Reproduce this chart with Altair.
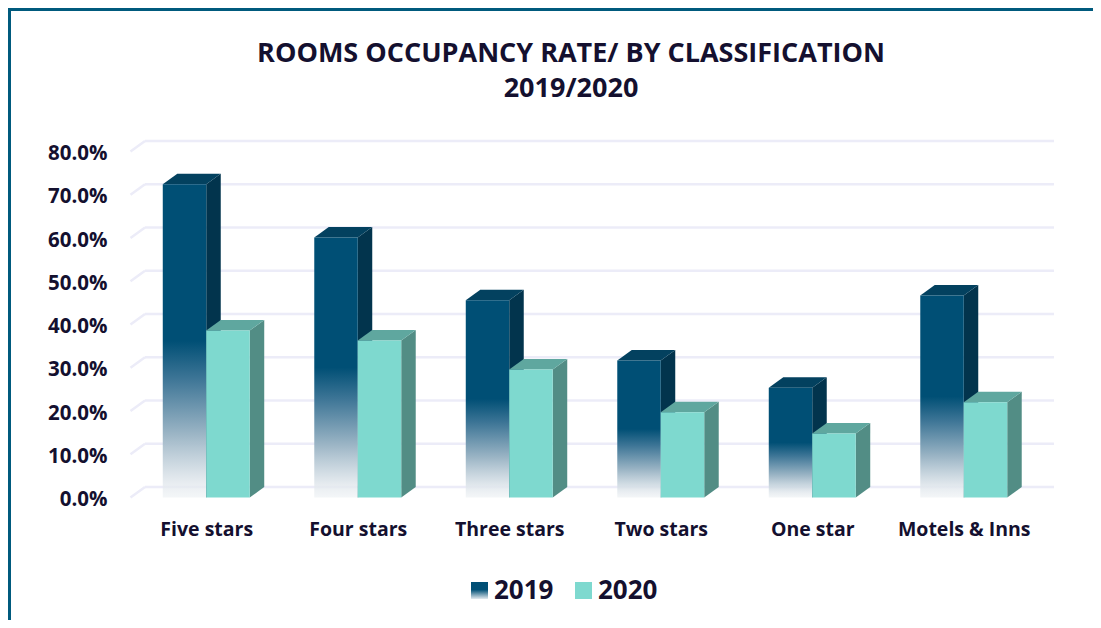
import altair as alt
import pandas as pd

categories = ["Five stars", "Four stars", "Three stars", "Two stars", "One star", "Motels & Inns"]
rate_2019 = [0.724, 0.601, 0.456, 0.317, 0.254, 0.467]
rate_2020 = [0.386, 0.363, 0.296, 0.197, 0.148, 0.220]
y_ticks = [0, 0.1, 0.2, 0.3, 0.4, 0.5, 0.6, 0.7, 0.8]
series = ["2019", "2020"]
title_lines = ["ROOMS OCCUPANCY RATE/ BY CLASSIFICATION", "2019/2020"]

FONT = "Open Sans"
INK = "#14102F"
BAR_W = 0.287
DX = 0.0957
DY = 0.0243
C19 = {"front": "#004F75", "top": "#03415F", "side": "#02344D"}
C20 = {"front": "#7ED9CF", "top": "#5FA79F", "side": "#528D85"}
GRID = "#ECECF8"
BORDER = "#005A7D"

xs = alt.Scale(domain=[-0.5, 5.5], nice=False, zero=False)
ys = alt.Scale(domain=[0, 0.8], nice=False)

labels_js = "[" + ",".join('"%s"' % c for c in categories) + "][datum.value]"
x_axis = alt.Axis(values=list(range(6)), labelExpr=labels_js, domain=False, ticks=False, grid=False,
                  labelFont=FONT, labelFontSize=19.5, labelFontWeight="bold", labelColor=INK,
                  labelPadding=23, labelOverlap=False, labelAngle=0)
y_axis = alt.Axis(values=y_ticks, format=".1%", domain=False, ticks=False, grid=False,
                  labelFont=FONT, labelFontSize=20.5, labelFontWeight="bold", labelColor=INK,
                  labelPadding=23.5, labelOffset=2, labelOverlap=False)


def X(field):
    return alt.X(field, type="quantitative", scale=xs, axis=x_axis, title=None)


def Y(field):
    return alt.Y(field, type="quantitative", scale=ys, axis=y_axis, title=None)


grad19 = alt.LinearGradient(
    gradient="linear", x1=0, x2=0, y1=0, y2=1,
    stops=[
        alt.GradientStop(offset=0, color="#004F75"),
        alt.GradientStop(offset=0.5, color="#004F75"),
        alt.GradientStop(offset=0.62, color="#3D7596"),
        alt.GradientStop(offset=0.8, color="#9DB6C6"),
        alt.GradientStop(offset=0.95, color="rgba(226,232,237,0.85)"),
        alt.GradientStop(offset=1, color="rgba(236,240,243,0.6)"),
    ],
)


def bar_layers(values, start, colors, front_fill):
    rows = [{"cat": i, "x0": i + start, "x1": i + start + BAR_W, "v": v} for i, v in enumerate(values)]
    front = pd.DataFrame(rows)
    side = pd.DataFrame(
        [{"cat": r["cat"], "x": r["x1"], "lo": 0, "hi": r["v"]} for r in rows]
        + [{"cat": r["cat"], "x": r["x1"] + DX, "lo": DY, "hi": r["v"] + DY} for r in rows]
    )
    top = pd.DataFrame(
        [{"cat": r["cat"], "a": r["x0"], "b": r["x1"], "y": r["v"]} for r in rows]
        + [{"cat": r["cat"], "a": r["x0"] + DX, "b": r["x1"] + DX, "y": r["v"] + DY} for r in rows]
    )
    return [
        alt.Chart(side).mark_area(orient="vertical", color=colors["side"]).encode(
            x=X("x"), y=Y("lo"), y2="hi", detail="cat:N"),
        alt.Chart(top).mark_area(orient="horizontal", color=colors["top"]).encode(
            y=Y("y"), x=X("a"), x2="b", detail="cat:N"),
        alt.Chart(front).mark_bar(fill=front_fill).encode(
            x=X("x0"), x2="x1", y=Y("v"), y2=alt.datum(0)),
    ]


grid_df = pd.DataFrame({"v": y_ticks})
grid_df["vb"] = grid_df["v"] + DY
grid_df["xa"] = -0.5
grid_df["xb"] = -0.5 + DX
grid_df["xc"] = 5.5 + DX
grid_back = alt.Chart(grid_df).mark_rule(color=GRID, strokeWidth=2.5).encode(
    x=X("xb"), x2="xc", y=Y("vb"))
grid_diag = alt.Chart(grid_df).mark_rule(color=GRID, strokeWidth=2.5).encode(
    x=X("xa"), x2="xb", y=Y("v"), y2="vb")

one = alt.Data(values=[{"k": 1}])
legend = [
    alt.Chart(one).mark_rect(fill=alt.LinearGradient(
        gradient="linear", x1=0, x2=0, y1=0, y2=1,
        stops=[alt.GradientStop(offset=0, color="#004F75"), alt.GradientStop(offset=0.45, color="#004F75"),
               alt.GradientStop(offset=1, color="#E4EAEF")])).encode(
        x=alt.value(340.5), x2=alt.value(357.5), y=alt.value(430.5), y2=alt.value(447.5)),
    alt.Chart(one).mark_rect(fill=C20["front"]).encode(
        x=alt.value(444.5), x2=alt.value(461.5), y=alt.value(430.5), y2=alt.value(447.5)),
    alt.Chart(one).mark_text(align="left", baseline="middle", font=FONT, fontSize=26, fontWeight="bold", color=INK).encode(
        x=alt.value(363.5), y=alt.value(439), text=alt.value(series[0])),
    alt.Chart(one).mark_text(align="left", baseline="middle", font=FONT, fontSize=26, fontWeight="bold", color=INK).encode(
        x=alt.value(467.5), y=alt.value(439), text=alt.value(series[1])),
]

frame = [
    alt.Chart(one).mark_rule(color=BORDER, strokeWidth=4).encode(
        x=alt.value(-121.5), y=alt.value(-143.5), y2=alt.value(468.5)),
    alt.Chart(one).mark_rule(color=BORDER, strokeWidth=4).encode(
        x=alt.value(-122.5), x2=alt.value(962.5), y=alt.value(-142.5)),
]

layers = (
    [grid_back, grid_diag]
    + bar_layers(rate_2019, -BAR_W, C19, grad19)
    + bar_layers(rate_2020, 0, C20, C20["front"])
    + legend + frame
)

chart = alt.layer(*layers).properties(
    width=909,
    height=346,
    padding={"left": 122.5, "top": 143.5, "right": 53.5, "bottom": 122.5},
    autosize=alt.AutoSizeParams(type="none"),
    background="white",
    title=alt.TitleParams(
        text=title_lines, anchor="middle", dx=-14, offset=-97, font=FONT, fontSize=27,
        fontWeight="bold", color=INK, lineHeight=35),
).configure_view(stroke=None)

chart.save("out.html", embed_options={"renderer": "svg", "actions": False})
